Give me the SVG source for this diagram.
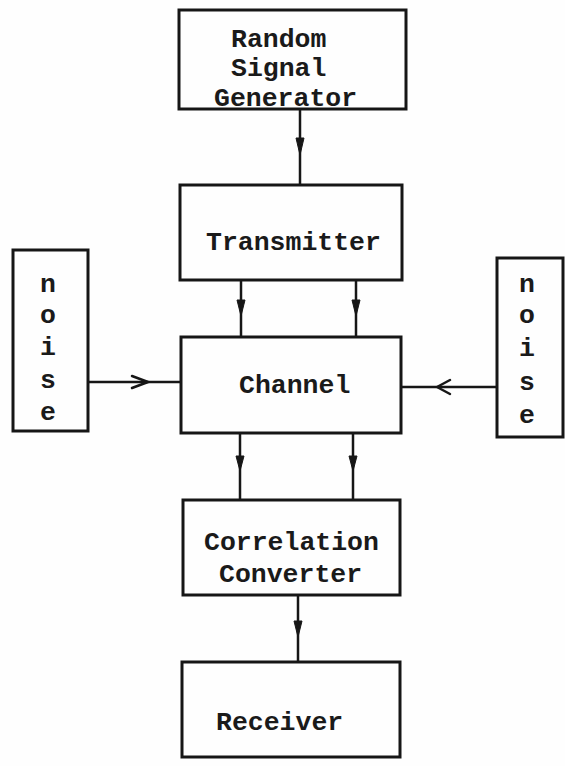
<svg xmlns="http://www.w3.org/2000/svg" width="565" height="766" viewBox="0 0 565 766">
  <style>
    .box { fill: none; stroke: #161616; stroke-width: 3; }
    .lbl { font-family: "Liberation Mono", "DejaVu Sans Mono", monospace; font-size: 26.5px; font-weight: bold; fill: #1a1a1a; }
    .mid { text-anchor: middle; }
    .wire { fill: none; stroke: #161616; stroke-width: 2.5; }
    .head { fill: #161616; stroke: #161616; stroke-width: 1; }
    .chev { fill: none; stroke: #161616; stroke-width: 2.5; stroke-linecap: round; stroke-linejoin: round; }
  </style>
  <rect width="565" height="766" fill="#fefefe"/>

  <g id="generator">
    <rect class="box" x="179" y="10" width="227" height="99"/>
    <text class="lbl" x="231" y="47">Random</text>
    <text class="lbl" x="231" y="76">Signal</text>
    <text class="lbl" x="214" y="106">Generator</text>
  </g>

  <g id="transmitter">
    <rect class="box" x="180" y="185" width="222" height="95"/>
    <text class="lbl" x="206" y="250">Transmitter</text>
  </g>

  <g id="noise-left">
    <rect class="box" x="13" y="250" width="75" height="181"/>
    <text class="lbl mid" x="48" y="292">n</text>
    <text class="lbl mid" x="48" y="323">o</text>
    <text class="lbl mid" x="48" y="355">i</text>
    <text class="lbl mid" x="48" y="388">s</text>
    <text class="lbl mid" x="48" y="420">e</text>
  </g>

  <g id="channel">
    <rect class="box" x="181" y="337" width="220" height="96"/>
    <text class="lbl" x="239" y="393">Channel</text>
  </g>

  <g id="noise-right">
    <rect class="box" x="497" y="258" width="66" height="179"/>
    <text class="lbl mid" x="527" y="292">n</text>
    <text class="lbl mid" x="527" y="323">o</text>
    <text class="lbl mid" x="527" y="356">i</text>
    <text class="lbl mid" x="527" y="390">s</text>
    <text class="lbl mid" x="527" y="423">e</text>
  </g>

  <g id="correlation-converter">
    <rect class="box" x="183" y="500" width="217" height="95"/>
    <text class="lbl" x="204" y="550">Correlation</text>
    <text class="lbl" x="219" y="582">Converter</text>
  </g>

  <g id="receiver">
    <rect class="box" x="182" y="662" width="218" height="95"/>
    <text class="lbl" x="216" y="730">Receiver</text>
  </g>

  <g id="connectors">
    <!-- generator to transmitter -->
    <line class="wire" x1="300" y1="109" x2="300" y2="185"/>
    <polygon class="head" points="296,138 304,138 300,155"/>
    <!-- transmitter to channel -->
    <line class="wire" x1="241" y1="280" x2="241" y2="337"/>
    <polygon class="head" points="237,300 245,300 241,316"/>
    <line class="wire" x1="356" y1="280" x2="356" y2="337"/>
    <polygon class="head" points="352,300 360,300 356,316"/>
    <!-- noise into channel -->
    <line class="wire" x1="88" y1="382" x2="181" y2="382"/>
    <polyline class="chev" points="132,376 148,382 132,388"/>
    <line class="wire" x1="497" y1="387" x2="401" y2="387"/>
    <polyline class="chev" points="450,380 437,387 450,394"/>
    <!-- channel to correlation converter -->
    <line class="wire" x1="240" y1="433" x2="240" y2="500"/>
    <polygon class="head" points="236,456 244,456 240,471"/>
    <line class="wire" x1="353" y1="433" x2="353" y2="500"/>
    <polygon class="head" points="349,456 357,456 353,471"/>
    <!-- correlation converter to receiver -->
    <line class="wire" x1="298" y1="595" x2="298" y2="662"/>
    <polygon class="head" points="294,621 302,621 298,637"/>
  </g>
</svg>
